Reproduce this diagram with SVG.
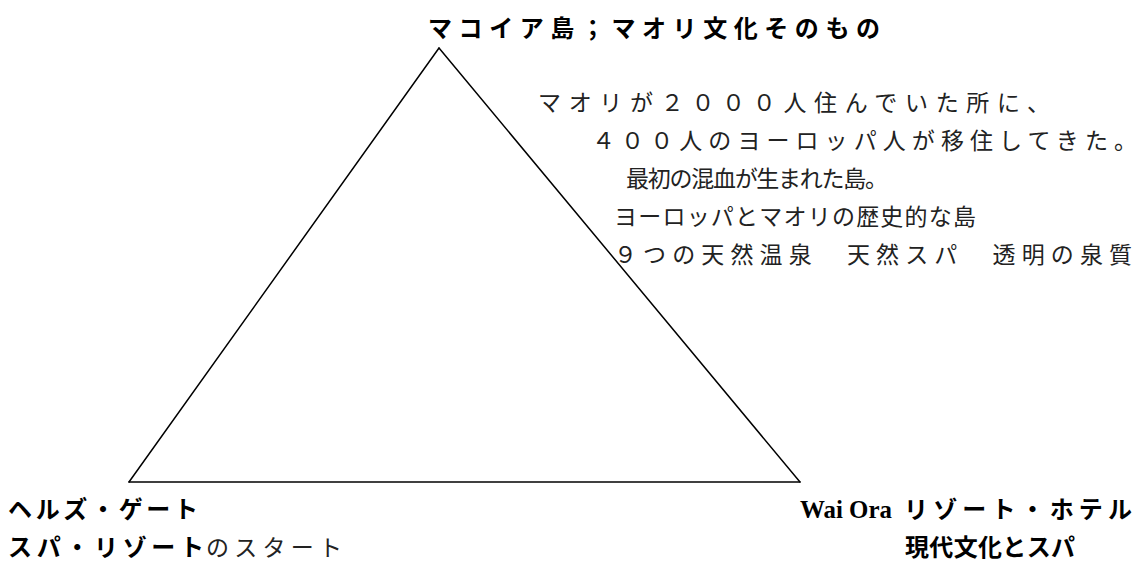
<svg xmlns="http://www.w3.org/2000/svg" width="1137" height="566" viewBox="0 0 1137 566">
<style>
text{font-family:"Liberation Serif","Noto Sans CJK JP",serif;font-size:23px;fill:#000}
.b{font-weight:bold;font-size:24px}
.n{font-weight:normal;fill:#222}
.edge{stroke:#000;stroke-width:1.5;fill:none;stroke-linecap:round}
</style>
<rect width="1137" height="566" fill="#fff"/>
<g id="connectors">
<line class="edge" x1="439" y1="48" x2="129" y2="482"/>
<line class="edge" x1="439" y1="48" x2="800" y2="482"/>
<line class="edge" x1="129" y1="482" x2="800" y2="482"/>
</g>
<g id="node-makoia">
<text class="b" x="428" y="37" textLength="452" lengthAdjust="spacing">マコイア島；マオリ文化そのもの</text>
<text class="n" x="538" y="111" textLength="512" lengthAdjust="spacing">マオリが２０００人住んでいた所に、</text>
<text class="n" x="592" y="149" textLength="545" lengthAdjust="spacing">４００人のヨーロッパ人が移住してきた。</text>
<text class="n" x="626" y="187" textLength="262" lengthAdjust="spacing">最初の混血が生まれた島。</text>
<text class="n" x="614" y="225" textLength="362" lengthAdjust="spacing">ヨーロッパとマオリの歴史的な島</text>
<text class="n" x="614" y="263" textLength="518" lengthAdjust="spacing">９つの天然温泉　天然スパ　透明の泉質</text>
</g>
<g id="node-hellsgate">
<text class="b" x="8" y="518" textLength="190" lengthAdjust="spacing">ヘルズ・ゲート</text>
<text class="b" x="8" y="556" textLength="196" lengthAdjust="spacing">スパ・リゾート</text>
<text class="n" x="206" y="556" textLength="136" lengthAdjust="spacing">のスタート</text>
</g>
<g id="node-waiora">
<text class="b" x="800" y="518" style="font-size:25px" textLength="92" lengthAdjust="spacingAndGlyphs">Wai Ora</text>
<text class="b" x="904" y="518" textLength="228" lengthAdjust="spacing">リゾート・ホテル</text>
<text class="b" x="905" y="556" textLength="170" lengthAdjust="spacing">現代文化とスパ</text>
</g>
</svg>
